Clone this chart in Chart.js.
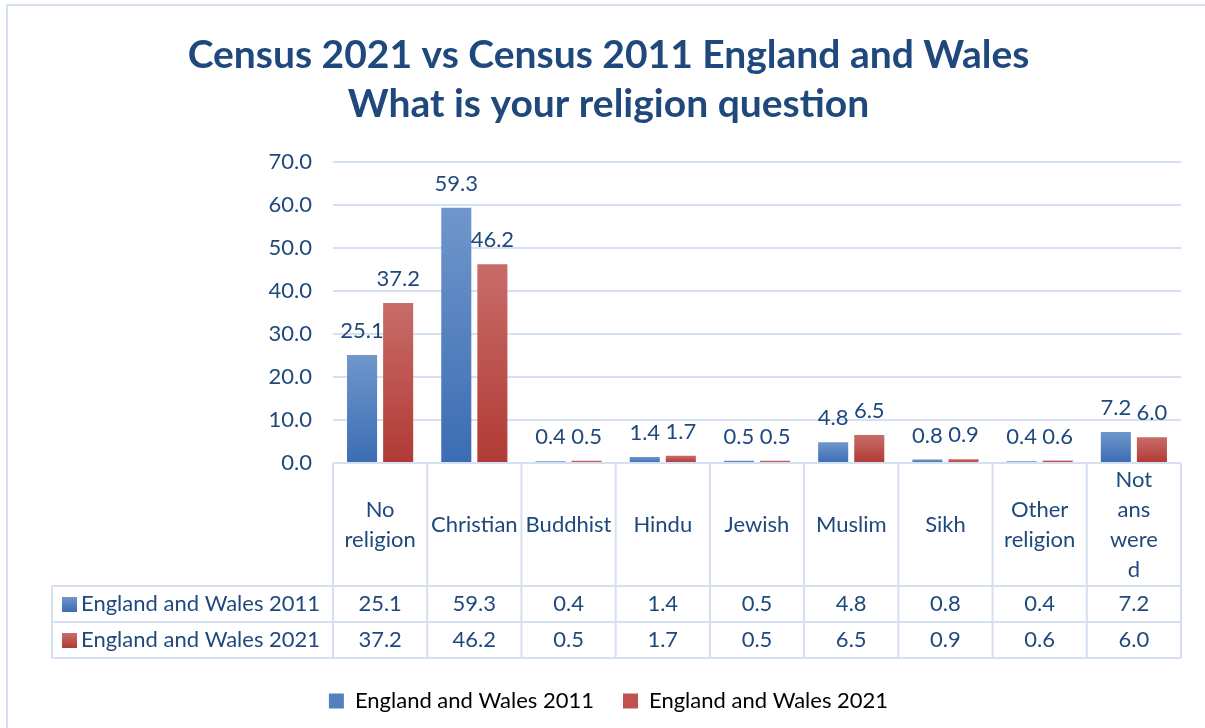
<!DOCTYPE html>
<html>
<head>
<meta charset="utf-8">
<title>Census 2021 vs Census 2011 religion</title>
<script src="https://cdn.jsdelivr.net/npm/chart.js@4/dist/chart.umd.min.js"></script>
<style>
  html, body { margin: 0; padding: 0; background: #fff; }
  #wrap { width: 1205px; height: 728px; }
</style>
</head>
<body>
<div id="wrap"><canvas id="religionChart" width="1205" height="728"></canvas></div>
<script>
// values
const categories = [['No', 'religion'], 'Christian', 'Buddhist', 'Hindu', 'Jewish', 'Muslim', 'Sikh', ['Other', 'religion'], ['Not', 'ans', 'were', 'd']];
const seriesNames = ['England and Wales 2011', 'England and Wales 2021'];
const values2011 = [25.1, 59.3, 0.4, 1.4, 0.5, 4.8, 0.8, 0.4, 7.2];
const values2021 = [37.2, 46.2, 0.5, 1.7, 0.5, 6.5, 0.9, 0.6, 6.0];
const yMin = 0;
const yMax = 70;
const yStep = 10;

const textColor = '#1f497d';
const lineColor = '#d5e0f1';
const fontFamily = 'Lato, "Open Sans", sans-serif';
const blueTop = '#7097cc', blueBottom = '#3b6cb3';
const redTop = '#c86c68', redBottom = '#b13a36';

function barFill(top, bottom) {
    return (c) => {
        const chart = c.chart;
        if (c.type !== 'data' || !chart.scales.y) return bottom;
        const ys = chart.scales.y;
        const y0 = ys.getPixelForValue(0);
        const y1 = ys.getPixelForValue(c.raw);
        if (y0 - y1 < 1) return bottom;
        const g = chart.ctx.createLinearGradient(0, y1, 0, y0);
        g.addColorStop(0, top);
        g.addColorStop(1, bottom);
        return g;
    };
}

function swatch(ctx, x, y, size, top, bottom) {
    const g = ctx.createLinearGradient(0, y, 0, y + size);
    g.addColorStop(0, top);
    g.addColorStop(1, bottom);
    ctx.fillStyle = g;
    ctx.fillRect(x, y, size, size);
}

// frame round the whole chart
const frame = {
    id: 'frame',
    beforeDraw(chart) {
        const ctx = chart.ctx;
        ctx.save();
        ctx.fillStyle = '#fff';
        ctx.fillRect(0, 0, chart.width, chart.height);
        ctx.strokeStyle = lineColor;
        ctx.lineWidth = 2;
        ctx.strokeRect(7, 5, chart.width + 20, chart.height + 20);
        ctx.restore();
    }
};

// numbers above bars
const barLabels = {
    id: 'barLabels',
    afterDatasetsDraw(chart) {
        const ctx = chart.ctx;
        ctx.save();
        ctx.fillStyle = textColor;
        ctx.font = '22px ' + fontFamily;
        ctx.textAlign = 'center';
        ctx.textBaseline = 'middle';
        chart.data.datasets.forEach((ds, i) => {
            chart.getDatasetMeta(i).data.forEach((bar, j) => {
                ctx.fillText(ds.data[j].toFixed(1), bar.x, bar.y - 24);
            });
        });
        ctx.restore();
    }
};

// Excel style data table under the plot
const dataTable = {
    id: 'dataTable',
    afterDraw(chart) {
        const ctx = chart.ctx;
        const xs = chart.scales.x;
        const n = categories.length;
        const w = xs.width / n;
        const top = chart.chartArea.bottom;
        const headBottom = top + 123;
        const rowH = 36;
        const tableLeft = 52;
        const bottom = headBottom + rowH * 2;

        ctx.save();
        ctx.strokeStyle = lineColor;
        ctx.lineWidth = 2;
        ctx.beginPath();
        ctx.moveTo(xs.left, top); ctx.lineTo(xs.right, top);
        for (let r = 0; r <= 2; r++) {
            ctx.moveTo(tableLeft, headBottom + r * rowH);
            ctx.lineTo(xs.right, headBottom + r * rowH);
        }
        for (let i = 0; i <= n; i++) {
            ctx.moveTo(xs.left + i * w, top);
            ctx.lineTo(xs.left + i * w, bottom);
        }
        ctx.moveTo(tableLeft, headBottom); ctx.lineTo(tableLeft, bottom);
        ctx.stroke();

        ctx.fillStyle = textColor;
        ctx.font = '22px ' + fontFamily;
        ctx.textAlign = 'center';
        ctx.textBaseline = 'middle';
        const lh = 30;
        categories.forEach((c, i) => {
            const lines = Array.isArray(c) ? c : [c];
            const cx = xs.getPixelForValue(i);
            const cy = (top + headBottom) / 2;
            lines.forEach((t, k) => {
                ctx.fillText(t, cx, cy + (k - (lines.length - 1) / 2) * lh);
            });
            ctx.fillText(values2011[i].toFixed(1), cx, headBottom + rowH / 2);
            ctx.fillText(values2021[i].toFixed(1), cx, headBottom + rowH * 1.5);
        });

        ctx.textAlign = 'left';
        swatch(ctx, 62, headBottom + rowH / 2 - 7, 15, blueTop, blueBottom);
        swatch(ctx, 62, headBottom + rowH * 1.5 - 7, 15, redTop, redBottom);
        ctx.fillStyle = textColor;
        ctx.fillText(seriesNames[0], 81, headBottom + rowH / 2);
        ctx.fillText(seriesNames[1], 81, headBottom + rowH * 1.5);
        ctx.restore();
    }
};

new Chart(document.getElementById('religionChart'), {
    type: 'bar',
    data: {
        labels: categories,
        datasets: [{
            label: seriesNames[0],
            data: values2011,
            backgroundColor: barFill(blueTop, blueBottom),
            categoryPercentage: 0.766,
            barPercentage: 0.833
        }, {
            label: seriesNames[1],
            data: values2021,
            backgroundColor: barFill(redTop, redBottom),
            categoryPercentage: 0.766,
            barPercentage: 0.833
        }]
    },
    options: {
        responsive: false,
        animation: false,
        layout: { padding: { left: 36, right: 24, top: 0, bottom: 6 } },
        plugins: {
            title: {
                display: true,
                text: ['Census 2021 vs Census 2011 England and Wales', 'What is your religion question'],
                color: textColor,
                font: { family: fontFamily, size: 39, weight: 'bold', lineHeight: 1.28 },
                padding: { top: 30, bottom: 32 }
            },
            legend: {
                position: 'bottom',
                labels: {
                    color: textColor,
                    font: { family: fontFamily, size: 22 },
                    boxWidth: 15,
                    boxHeight: 15,
                    padding: 29,
                    generateLabels: () => [
                        { text: seriesNames[0], fillStyle: '#5480c0', strokeStyle: '#5480c0', lineWidth: 0, datasetIndex: 0 },
                        { text: seriesNames[1], fillStyle: '#bd524e', strokeStyle: '#bd524e', lineWidth: 0, datasetIndex: 1 }
                    ]
                }
            },
            tooltip: { enabled: false }
        },
        scales: {
            x: {
                grid: { display: false },
                border: { display: false },
                ticks: { display: false },
                afterFit: (scale) => { scale.height = 198; }
            },
            y: {
                min: yMin,
                max: yMax,
                ticks: {
                    stepSize: yStep,
                    color: textColor,
                    font: { family: fontFamily, size: 22 },
                    padding: 21,
                    callback: (v) => v.toFixed(1)
                },
                grid: { color: lineColor, lineWidth: 2, drawTicks: false },
                border: { display: false },
                afterFit: (scale) => { scale.width = 297; }
            }
        }
    },
    plugins: [frame, barLabels, dataTable]
});
</script>
</body>
</html>
